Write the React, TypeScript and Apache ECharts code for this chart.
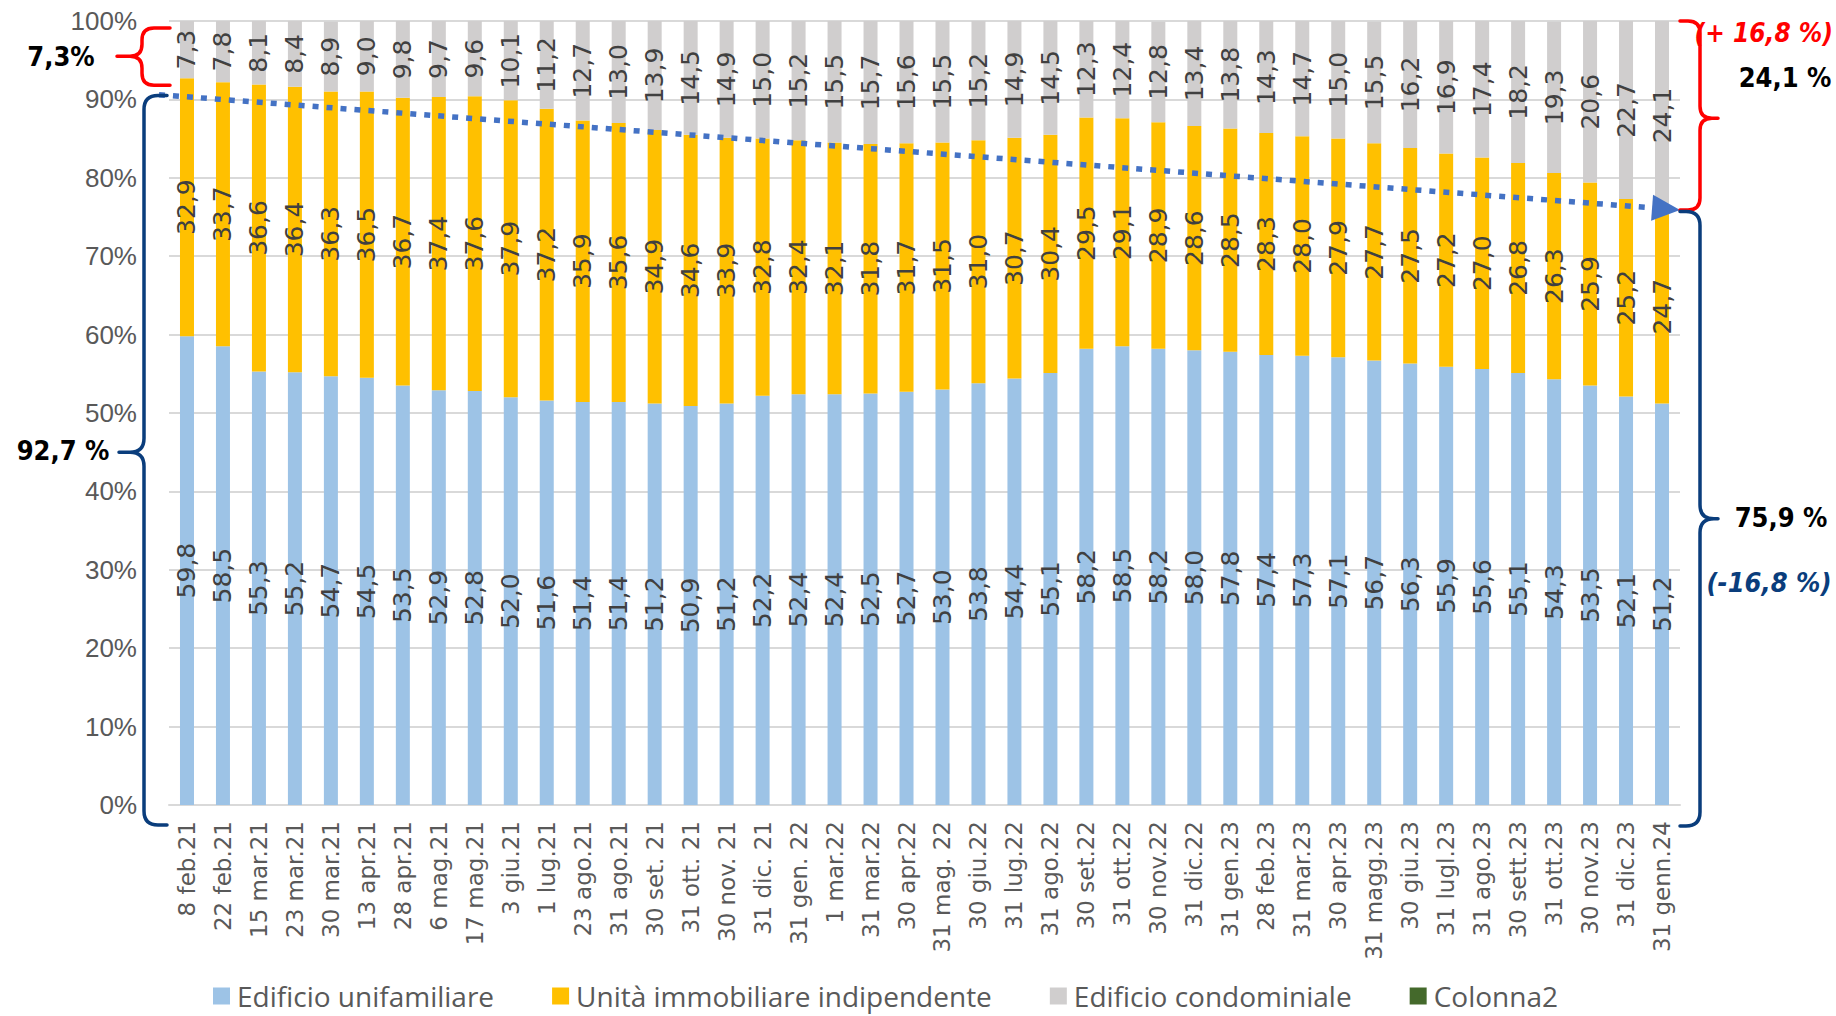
import React, { useEffect, useRef } from "react";
import * as echarts from "echarts";

const categories = [
  "8 feb.21", "22 feb.21", "15 mar.21", "23 mar.21", "30 mar.21", "13 apr.21", "28 apr.21",
  "6 mag.21", "17 mag.21", "3 giu.21", "1 lug.21", "23 ago.21", "31 ago.21", "30 set. 21",
  "31 ott. 21", "30 nov. 21", "31 dic. 21", "31 gen. 22", "1 mar.22", "31 mar.22", "30 apr.22",
  "31 mag. 22", "30 giu.22", "31 lug.22", "31 ago.22", "30 set.22", "31 ott.22", "30 nov.22",
  "31 dic.22", "31 gen.23", "28 feb.23", "31 mar.23", "30 apr.23", "31 magg.23", "30 giu.23",
  "31 lugl.23", "31 ago.23", "30 sett.23", "31 ott.23", "30 nov.23", "31 dic.23", "31 genn.24",
];

const unifamiliare = [
  59.8, 58.5, 55.3, 55.2, 54.7, 54.5, 53.5, 52.9, 52.8, 52.0, 51.6, 51.4, 51.4, 51.2,
  50.9, 51.2, 52.2, 52.4, 52.4, 52.5, 52.7, 53.0, 53.8, 54.4, 55.1, 58.2, 58.5, 58.2,
  58.0, 57.8, 57.4, 57.3, 57.1, 56.7, 56.3, 55.9, 55.6, 55.1, 54.3, 53.5, 52.1, 51.2,
];

const indipendente = [
  32.9, 33.7, 36.6, 36.4, 36.3, 36.5, 36.7, 37.4, 37.6, 37.9, 37.2, 35.9, 35.6, 34.9,
  34.6, 33.9, 32.8, 32.4, 32.1, 31.8, 31.7, 31.5, 31.0, 30.7, 30.4, 29.5, 29.1, 28.9,
  28.6, 28.5, 28.3, 28.0, 27.9, 27.7, 27.5, 27.2, 27.0, 26.8, 26.3, 25.9, 25.2, 24.7,
];

const condominiale = [
  7.3, 7.8, 8.1, 8.4, 8.9, 9.0, 9.8, 9.7, 9.6, 10.1, 11.2, 12.7, 13.0, 13.9,
  14.5, 14.9, 15.0, 15.2, 15.5, 15.7, 15.6, 15.5, 15.2, 14.9, 14.5, 12.3, 12.4, 12.8,
  13.4, 13.8, 14.3, 14.7, 15.0, 15.5, 16.2, 16.9, 17.4, 18.2, 19.3, 20.6, 22.7, 24.1,
];

const colonna2: number[] = [];

const seriesNames = [
  "Edificio unifamiliare",
  "Unità immobiliare indipendente",
  "Edificio condominiale",
  "Colonna2",
];

// Annotation values (percent)
const trendStart = 90.6;
const trendEnd = 75.9;
const leftRed = { top: 99.1, mid: 95.5, bottom: 91.8, text: "7,3%" };
const leftBlue = { top: 90.5, mid: 45.0, text: "92,7 %" };
const rightRed = { top: 100, mid: 87.6, bottom: 75.9, text: "(+ 16,8 %)", sub: "24,1 %" };
const rightBlue = { top: 75.7, mid: 36.5, text: "75,9 %", sub: "(-16,8 %)" };

const RED = "#ff0000";
const NAVY = "#0a3d7c";

const fmt = (v: number) => v.toFixed(1).replace(".", ",");

const BraceShape = (echarts.graphic as any).extendShape({
  type: "brace",
  shape: { sx: 0, y1: 0, y2: 0, ym: 0, d: 1, hook: 25, tip: 25, r: 10 },
  buildPath(ctx: any, s: any) {
    const { sx, y1, y2, ym, d, hook, tip } = s;
    const r = Math.max(1, Math.min(s.r, (ym - y1) / 2, (y2 - ym) / 2));
    ctx.moveTo(sx + d * hook, y1);
    ctx.lineTo(sx + d * r, y1);
    ctx.quadraticCurveTo(sx, y1, sx, y1 + r);
    ctx.lineTo(sx, ym - r);
    ctx.quadraticCurveTo(sx, ym, sx - d * r, ym);
    ctx.lineTo(sx - d * tip, ym);
    ctx.moveTo(sx - d * r, ym);
    ctx.quadraticCurveTo(sx, ym, sx, ym + r);
    ctx.lineTo(sx, y2 - r);
    ctx.quadraticCurveTo(sx, y2, sx + d * r, y2);
    ctx.lineTo(sx + d * hook, y2);
  },
});
(echarts.graphic as any).registerShape("brace", BraceShape);

const labelFont = "DejaVu Sans";
const boldFont = '"DejaVu Sans Condensed", "DejaVu Sans", sans-serif';

export default function App() {
  const ref = useRef<HTMLDivElement>(null);

  useEffect(() => {
    if (!ref.current) return;
    const chart = echarts.init(ref.current, null, { renderer: "svg" });

    const barLabel = {
      show: true,
      position: "inside",
      rotate: 90,
      fontSize: 25,
      fontFamily: labelFont,
      color: "#404040",
      formatter: (p: any) => fmt(p.value),
    };

    const option: any = {
      animation: false,
      backgroundColor: "#ffffff",
      grid: { left: 169, right: 156, top: 21, bottom: 211, containLabel: false },
      legend: {
        data: seriesNames,
        left: 208,
        top: 976,
        icon: "rect",
        itemWidth: 17,
        itemHeight: 17,
        itemGap: 58,
        textStyle: {
          fontSize: 28,
          lineHeight: 30,
          fontFamily: "Open Sans",
          color: "#595959",
          padding: [0, 0, 0, 2],
        },
      },
      xAxis: {
        type: "category",
        data: categories,
        axisTick: { show: false },
        axisLine: { lineStyle: { color: "#d9d9d9", width: 2 } },
        axisLabel: {
          rotate: 90,
          interval: 0,
          fontSize: 23,
          fontFamily: labelFont,
          color: "#595959",
          margin: 16,
        },
      },
      yAxis: {
        type: "value",
        min: 0,
        max: 100,
        interval: 10,
        axisLine: { show: false },
        axisTick: { show: false },
        axisLabel: {
          formatter: "{value}%",
          fontSize: 26,
          fontFamily: "Liberation Sans",
          color: "#595959",
          margin: 32,
        },
        splitLine: { lineStyle: { color: "#d9d9d9", width: 2 } },
      },
      series: [
        {
          name: seriesNames[0],
          type: "bar",
          stack: "tot",
          data: unifamiliare,
          barWidth: 14,
          itemStyle: { color: "#9dc3e6" },
          label: barLabel,
        },
        {
          name: seriesNames[1],
          type: "bar",
          stack: "tot",
          data: indipendente,
          barWidth: 14,
          itemStyle: { color: "#ffc000" },
          label: barLabel,
        },
        {
          name: seriesNames[2],
          type: "bar",
          stack: "tot",
          data: condominiale,
          barWidth: 14,
          itemStyle: { color: "#d0cece" },
          label: barLabel,
        },
        {
          name: seriesNames[3],
          type: "bar",
          stack: "tot",
          data: colonna2,
          barWidth: 14,
          itemStyle: { color: "#44692b" },
        },
      ],
    };

    chart.setOption(option);

    const yPx = (v: number) => chart.convertToPixel({ yAxisIndex: 0 }, v) as number;
    const xPx = (i: number) => chart.convertToPixel({ xAxisIndex: 0 }, i) as number;
    const bw = xPx(1) - xPx(0);
    const gridLeft = xPx(0) - bw / 2;
    const gridRight = xPx(categories.length - 1) + bw / 2;
    const y0 = yPx(0);

    // trend arrow
    const sX = gridLeft - 10;
    const sY = yPx(trendStart);
    const tX = gridRight;
    const tY = yPx(trendEnd);
    const len = Math.hypot(tX - sX, tY - sY);
    const ux = (tX - sX) / len;
    const uy = (tY - sY) / len;
    const aL = 28;
    const aH = 13;
    const bX = tX - ux * aL;
    const bY = tY - uy * aL;

    const braceStyle = (c: string) => ({ stroke: c, lineWidth: 3.5, fill: "none", lineCap: "round", lineJoin: "round" });

    const txt = (
      x: number,
      y: number,
      text: string,
      color: string,
      italic = false,
      align = "center",
      size = 27
    ) => ({
      type: "text",
      x,
      y,
      z: 100,
      style: {
        text,
        fill: color,
        font: `${italic ? "italic " : ""}bold ${size}px ${boldFont}`,
        align,
        verticalAlign: "middle",
        textAlign: align,
        textVerticalAlign: "middle",
      },
    });

    chart.setOption({
      graphic: [
        {
          type: "line",
          z: 90,
          shape: { x1: sX, y1: sY, x2: bX, y2: bY },
          style: { stroke: "#4472c4", lineWidth: 5.5, lineDash: [6, 8] },
        },
        {
          type: "polygon",
          z: 90,
          shape: {
            points: [
              [tX, tY],
              [bX - uy * aH, bY + ux * aH],
              [bX + uy * aH, bY - ux * aH],
            ],
          },
          style: { fill: "#4472c4" },
        },
        {
          type: "brace",
          z: 95,
          shape: { sx: gridLeft - 27, y1: yPx(leftRed.top), y2: yPx(leftRed.bottom), ym: yPx(leftRed.mid), d: 1, hook: 28, tip: 25, r: 12 },
          style: braceStyle(RED),
        },
        {
          type: "brace",
          z: 95,
          shape: { sx: gridLeft - 25, y1: yPx(leftBlue.top), y2: y0 + 20, ym: yPx(leftBlue.mid), d: 1, hook: 23, tip: 25, r: 14 },
          style: braceStyle(NAVY),
        },
        {
          type: "brace",
          z: 95,
          shape: { sx: gridRight + 20, y1: yPx(rightRed.top), y2: yPx(rightRed.bottom), ym: yPx(rightRed.mid), d: -1, hook: 20, tip: 18, r: 12 },
          style: braceStyle(RED),
        },
        {
          type: "brace",
          z: 95,
          shape: { sx: gridRight + 20, y1: yPx(rightBlue.top), y2: y0 + 21, ym: yPx(rightBlue.mid), d: -1, hook: 20, tip: 18, r: 14 },
          style: braceStyle(NAVY),
        },
        txt(61, 56, leftRed.text, "#000000"),
        txt(63, 450, leftBlue.text, "#000000"),
        txt(1833, 33, rightRed.text, RED, true, "right", 26),
        txt(1785, 77, rightRed.sub, "#000000"),
        txt(1781, 517, rightBlue.text, "#000000"),
        txt(1769, 582, rightBlue.sub, NAVY, true),
      ],
    });

    return () => chart.dispose();
  }, []);

  return (
    <div
      ref={ref}
      style={{ position: "fixed", left: 0, top: 0, width: 1836, height: 1016, background: "#fff" }}
    />
  );
}
